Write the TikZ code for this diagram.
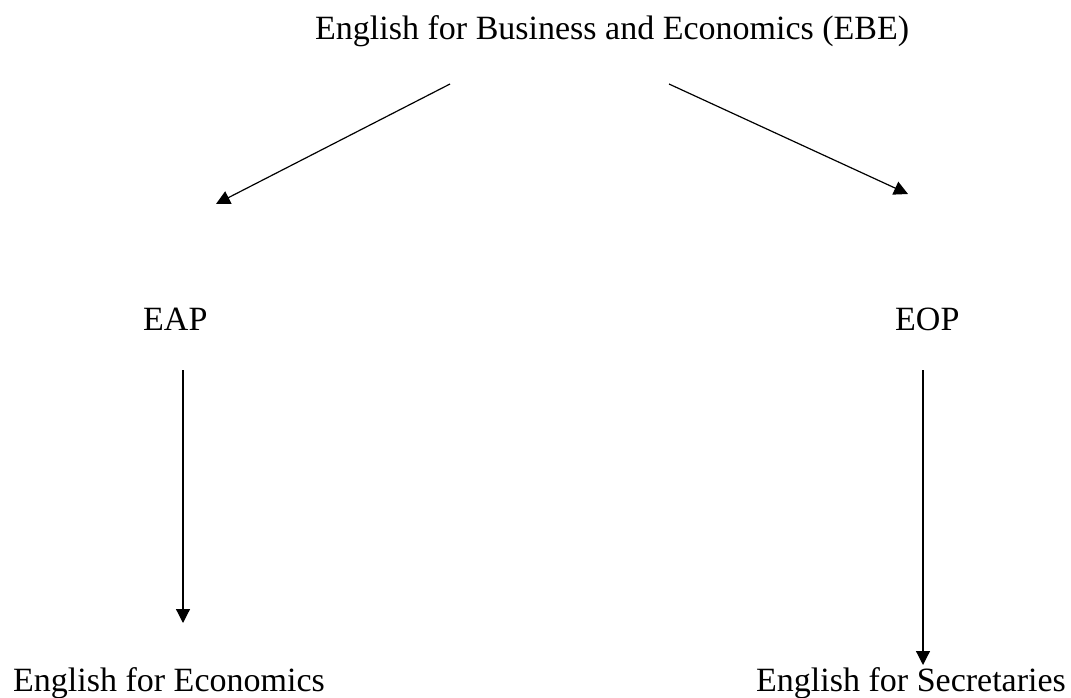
\documentclass[tikz,border=0pt]{standalone}
\usepackage{fontspec}
\setmainfont{Liberation Serif}
\usetikzlibrary{arrows.meta}
\begin{document}
\begin{tikzpicture}[x=1pt,y=-1pt,
  label/.style={font=\fontsize{34}{40}\selectfont, inner sep=0pt, anchor=base west},
  link/.style={line width=1.2pt, -{Triangle[length=14pt,width=14pt]}}]
\useasboundingbox (0,0) rectangle (1071,698);
% texts
\node[label] (ebe) at (315,40) {English for Business and Economics (EBE)};
\node[label] (eap) at (143,330) {EAP};
\node[label] (eop) at (895,330) {EOP};
\node[label] (econ) at (13,691) {English for Economics};
\node[label] (secr) at (756,691) {English for Secretaries};
% connector ends
\coordinate (a1) at (450,84);  \coordinate (a2) at (216,204);
\coordinate (b1) at (669,84);  \coordinate (b2) at (908,194);
\coordinate (c1) at (183,370); \coordinate (c2) at (183,623);
\coordinate (d1) at (923,370); \coordinate (d2) at (923,665);
\draw[link] (a1) -- (a2);
\draw[link] (b1) -- (b2);
\draw[link] (c1) -- (c2);
\draw[link] (d1) -- (d2);
\end{tikzpicture}
\end{document}
